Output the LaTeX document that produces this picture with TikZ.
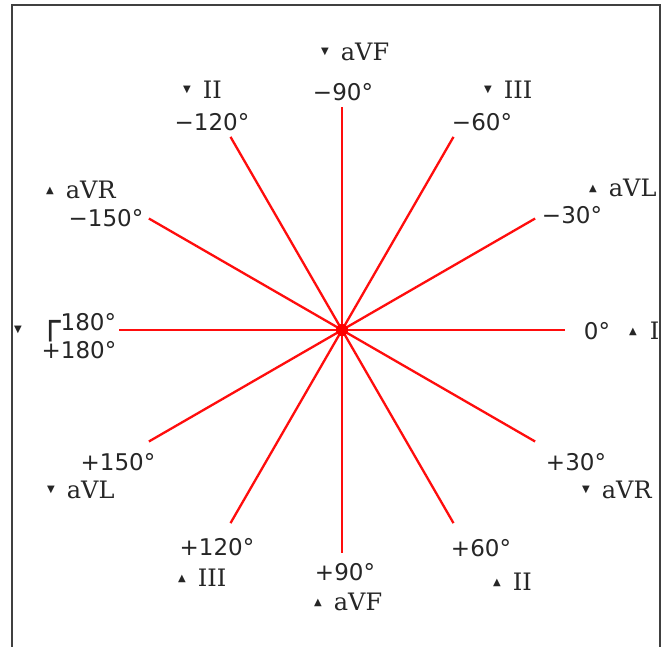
\documentclass[tikz,border=0pt]{standalone}
\usepackage{fontspec}
\setmainfont{DejaVu Serif}
\newfontfamily\sansf{DejaVu Sans}
\usetikzlibrary{calc}
\tikzset{
  deg/.style={font=\sansf\fontsize{23}{26}\selectfont, inner sep=0pt, anchor=base, text=black!85},
  lead/.style={font=\fontsize{24}{27}\selectfont, inner sep=0pt, anchor=base west, text=black!85},
  ray/.style={draw=red!95, line width=2.3pt},
  frame/.style={draw=black!75, line width=2pt},
}
\newcommand{\tdn}{\raisebox{6pt}{\sansf\fontsize{10}{12}\selectfont ▼}}
\newcommand{\tup}{\raisebox{5pt}{\sansf\fontsize{10}{12}\selectfont ▲}}
\newcommand{\gapl}{\hspace{12pt}}
\begin{document}
\begin{tikzpicture}[x=1pt,y=-1pt]
\useasboundingbox (0,0) rectangle (664,646);
\fill[white] (0,0) rectangle (664,646);
\draw[frame] (12,650) -- (12,5) -- (660,5) -- (660,650);
\begin{scope}
\clip (13,6) rectangle (659,646);
\node[circle, fill=red, inner sep=0pt, minimum size=12pt] (c) at (342,330) {};
\foreach \a in {0,30,...,330} {
  \coordinate (e\a) at ($(c)+(\a:223)$);
  \draw[ray] (c.center) -- (e\a);
}
\fill[red] (c) circle (6);
% degree labels
\node[deg] (m90) at (343,100.5) {−90°};
\node[deg] (m60) at (482,130.5) {−60°};
\node[deg] (m30) at (572,223.5) {−30°};
\node[deg] (z0) at (597,339.5) {0°};
\node[deg] (p30) at (576,470.5) {+30°};
\node[deg] (p60) at (481,556.5) {+60°};
\node[deg] (p90) at (345,580.5) {+90°};
\node[deg] (p120) at (217,555.5) {+120°};
\node[deg] (p150) at (118,470.5) {+150°};
\node[deg] (p180) at (79,358.5) {+180°};
\node[deg, anchor=base west] (m180) at (40,330.5) {\raisebox{-3pt}{\fontsize{34}{34}\selectfont ┌}180°};
\node[deg] (m150) at (106,226.5) {−150°};
\node[deg] (m120) at (212,130.5) {−120°};
% lead labels
\node[lead] (l1) at (321,60.5) {\tdn\gapl aVF};
\node[lead] (l2) at (484,98.5) {\tdn\gapl III};
\node[lead] (l3) at (589,196.5) {\tup\gapl aVL};
\node[lead] (l4) at (629,339.5) {\tup\hspace{13pt}I};
\node[lead] (l5) at (582,498.5) {\tdn\gapl aVR};
\node[lead] (l6) at (493,590.5) {\tup\gapl II};
\node[lead] (l7) at (314,610.5) {\tup\gapl aVF};
\node[lead] (l8) at (178,586.5) {\tup\gapl III};
\node[lead] (l9) at (47,498.5) {\tdn\gapl aVL};
\node[lead] (l10) at (14,338.5) {\tdn};
\node[lead] (l11) at (46,198.5) {\tup\gapl aVR};
\node[lead] (l12) at (183,98.5) {\tdn\gapl II};
\end{scope}
\end{tikzpicture}
\end{document}
